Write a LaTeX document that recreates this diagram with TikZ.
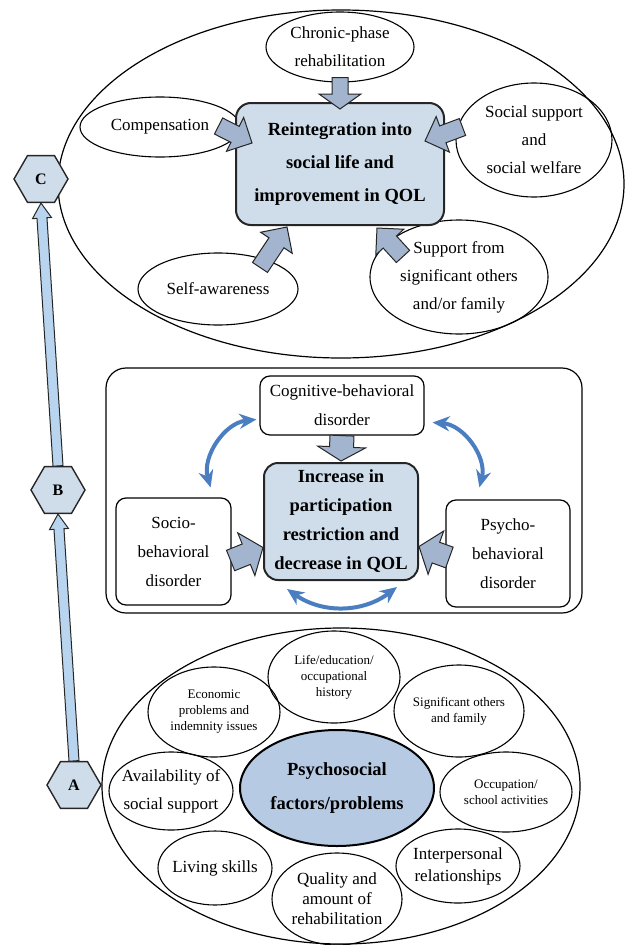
\documentclass[tikz,border=0pt]{standalone}
\usepackage{fontspec}
\setmainfont{Liberation Serif}
\usepackage{xcolor}
\usepackage{tikz}
\usetikzlibrary{shapes.geometric, arrows.meta, calc}

\definecolor{paleblue}{HTML}{CFDDEB}
\definecolor{coreblue}{HTML}{B7CAE3}
\definecolor{arrowgray}{HTML}{A2B4CE}
\definecolor{climbblue}{HTML}{B8D4EF}
\definecolor{loopblue}{HTML}{4A7EC0}

\begin{document}
\begin{tikzpicture}[x=1pt, y=-1pt]
\tikzstyle{zone} = [draw=black, line width=1.2pt, inner sep=0pt]
\tikzstyle{factor} = [ellipse, draw=black, line width=1.1pt, inner sep=-12pt, align=center, font=\fontsize{17}{28}\selectfont]
\tikzstyle{smallfactor} = [factor, font=\fontsize{13}{16}\selectfont]
\tikzstyle{goal} = [rectangle, rounded corners=15pt, draw=black!85, line width=2pt, fill=paleblue, inner sep=2pt, align=center, font=\bfseries\fontsize{18.5}{33}\selectfont]
\tikzstyle{disorder} = [rectangle, rounded corners=10pt, draw=black, line width=1.2pt, align=center, font=\fontsize{17}{29}\selectfont]
\tikzstyle{stage} = [regular polygon, regular polygon sides=6, minimum size=54pt, inner sep=0pt, draw=black!85, line width=1.4pt, fill=paleblue, font=\bfseries\fontsize{16}{16}\selectfont]
\tikzstyle{blockarrow} = [draw=black!85, line width=1pt, fill=arrowgray, to path={
  ($(\tikztostart)!\bshaft!90:(\tikztotarget)$)
  -- ($(\tikztotarget)!\blen!(\tikztostart)!\bshaft!90:(\tikztotarget)$)
  -- ($(\tikztotarget)!\blen!(\tikztostart)!\bhead!90:(\tikztotarget)$)
  -- (\tikztotarget)
  -- ($(\tikztotarget)!\blen!(\tikztostart)!\bhead!-90:(\tikztotarget)$)
  -- ($(\tikztotarget)!\blen!(\tikztostart)!\bshaft!-90:(\tikztotarget)$)
  -- ($(\tikztostart)!\bshaft!-90:(\tikztotarget)$) -- cycle}]
\tikzstyle{climb} = [blockarrow, fill=climbblue]
\tikzstyle{feedback} = [draw=loopblue, line width=4pt, {Stealth[length=17pt,width=15pt]}-{Stealth[length=17pt,width=15pt]}]

\useasboundingbox (0,0) rectangle (626,945);

% Stage C
\node[zone, ellipse, minimum width=566pt, minimum height=348pt] (zoneC) at (341,184) {};
\node[factor, minimum width=148pt, minimum height=70pt] (chronic) at (340,47) {Chronic-phase\\rehabilitation};
\node[factor, minimum width=160pt, minimum height=60pt] (comp) at (160,127) {Compensation};
\node[factor, minimum width=156pt, minimum height=114pt] (social) at (534,140) {Social support\\and\\social welfare};
\node[factor, minimum width=160pt, minimum height=72pt] (self) at (218,289) {Self-awareness};
\node[factor, minimum width=178pt, minimum height=114pt] (family) at (459,277) {Support from\\significant others\\and/or family};
\node[goal, minimum width=208pt, minimum height=122pt] (reint) at (340,164) {Reintegration into\\social life and\\improvement in QOL};

% Stage B
\node[zone, rectangle, rounded corners=20pt, minimum width=476pt, minimum height=245pt] (zoneB) at (344,490.5) {};
\node[disorder, minimum width=164pt, minimum height=59pt] (cog) at (342,405.5) {Cognitive-behavioral\\disorder};
\node[disorder, minimum width=115pt, minimum height=107pt] (socio) at (173.5,551.5) {Socio-\\behavioral\\disorder};
\node[disorder, minimum width=124pt, minimum height=107pt] (psycho) at (508,553.5) {Psycho-\\behavioral\\disorder};
\node[goal, rounded corners=14pt, minimum width=154pt, minimum height=117pt, font=\bfseries\fontsize{18.5}{29}\selectfont] (incr) at (341,521.5) {Increase in\\participation\\restriction and\\decrease in QOL};

% Stage A
\node[zone, ellipse, minimum width=478pt, minimum height=316pt] (zoneA) at (341,786) {};
\node[factor, line width=2pt, fill=coreblue, inner sep=0pt, minimum width=194pt, minimum height=116pt, font=\bfseries\fontsize{18.5}{34}\selectfont] (core) at (337,788) {Psychosocial\\factors/problems};
\node[smallfactor, minimum width=132pt, minimum height=92pt] (history) at (334,677) {Life/education/\\occupational\\history};
\node[smallfactor, minimum width=132pt, minimum height=90pt] (economic) at (214,712) {Economic\\problems and\\indemnity issues};
\node[smallfactor, minimum width=130pt, minimum height=92pt] (others) at (459,711) {Significant others\\and family};
\node[factor, minimum width=124pt, minimum height=78pt] (availability) at (171,791) {Availability of\\social support};
\node[smallfactor, minimum width=132pt, minimum height=80pt] (occupation) at (506,792) {Occupation/\\school activities};
\node[factor, minimum width=114pt, minimum height=74pt] (living) at (215,868) {Living skills};
\node[factor, minimum width=130pt, minimum height=92pt, font=\fontsize{17}{20}\selectfont] (quality) at (337,899) {Quality and\\amount of\\rehabilitation};
\node[factor, minimum width=124pt, minimum height=74pt, font=\fontsize{17}{22}\selectfont] (relations) at (458,866) {Interpersonal\\relationships};

% Stages
\node[stage] (hexC) at (41,179) {C};
\node[stage] (hexB) at (58,490) {B};
\node[stage] (hexA) at (74,785) {A};

% Arrows into the goal box
\def\bshaft{8pt}\def\bhead{21pt}\def\blen{15pt}
\draw[blockarrow] ($(chronic.south)+(0,-5)$) to ($(reint.north)+(0,7)$);
\def\bshaft{9pt}\def\bhead{19pt}\def\blen{19pt}
\draw[blockarrow] ($(comp.east)+(-22,-1)$) to ($(reint.west)+(17,-21)$);
\draw[blockarrow] ($(social.west)+(7,-13)$) to ($(reint.east)+(-20,-23)$);
\draw[blockarrow] ($(self.north)+(42,15)$) to ($(reint.south)+(-53,1)$);
\draw[blockarrow] ($(family.north)+(-56,37)$) to ($(reint.south)+(37,2)$);

% Arrows into the restriction box
\def\bshaft{12pt}\def\bhead{24pt}\def\blen{14pt}
\draw[blockarrow] (cog.south) to ($(incr.north)+(0,-1)$);
\def\bshaft{11pt}\def\bhead{23pt}\def\blen{18pt}
\draw[blockarrow] ($(socio.east)+(-1,9)$) to ($(incr.west)+(0,26)$);
\draw[blockarrow] ($(psycho.west)+(4,4)$) to ($(incr.east)+(0,25)$);

% Interactions
\draw[feedback] ($(cog.west)+(-3,14)$) to[bend right=50] ($(socio.north east)+(-21,-10)$);
\draw[feedback] ($(cog.east)+(8,17)$) to[bend left=50] ($(psycho.north west)+(34,-12)$);
\draw[feedback] ($(incr.south)+(-54,8)$) to[bend right=36] ($(incr.south)+(56,6)$);

% Progression
\def\bshaft{5pt}\def\bhead{9.5pt}\def\blen{15pt}
\draw[climb] (hexA.north) to (hexB.south);
\draw[climb] (hexB.north) to (hexC.south);
\end{tikzpicture}
\end{document}
